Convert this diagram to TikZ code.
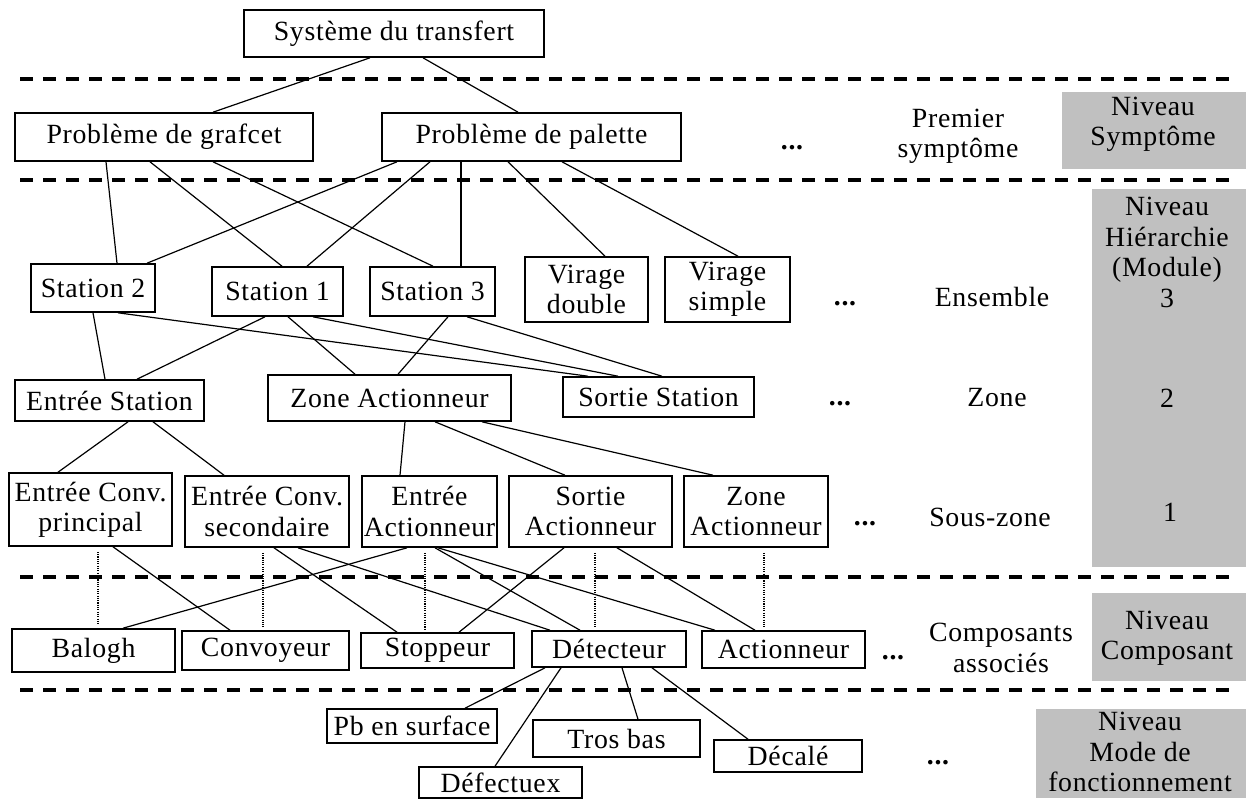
\documentclass[tikz,border=0pt]{standalone}
\usepackage{fontspec}
\setmainfont{Liberation Serif}[LetterSpace=2.5]
\usepackage{tikz}
\usetikzlibrary{positioning}
\usepackage{xcolor}
\definecolor{levelgray}{HTML}{C0C0C0}

\begin{document}
\begin{tikzpicture}[
  x=0.5pt, y=-0.5pt,
  font=\fontsize{13.9pt}{15.2pt}\selectfont,
  box/.style={draw, line width=0.8pt, inner sep=0pt, align=center},
  link/.style={line width=0.6pt},
  dotlink/.style={line width=1.1pt, dash pattern=on 0.55pt off 0.6pt,
    shorten <=2.5pt, shorten >=1.5pt},
  sepline/.style={line width=2pt, dash pattern=on 6.5pt off 5pt},
  lab/.style={align=center, inner sep=0pt}
]
  \useasboundingbox (0,0) rectangle (1246,798);
  % Level bands
  \fill[levelgray] (1062,92) rectangle (1246,169);
  \fill[levelgray] (1092,189) rectangle (1246,567);
  \fill[levelgray] (1092,593) rectangle (1246,681);
  \fill[levelgray] (1036,709) rectangle (1246,798);
  % Separators
  \foreach \y in {79,180,577,690}
    \draw[sepline] (20,\y) -- (1232,\y);
  % Top
  \node[box, minimum width=150pt, minimum height=23.5pt]
    (sys) at (394,33.5) {Système du transfert};
  % Symptoms
  \node[box, minimum width=149pt, minimum height=24pt]
    (pgraf) at (164,137) {Problème de grafcet};
  \node[box, minimum width=149.5pt, minimum height=24pt]
    (ppal) at (531.5,137) {Problème de palette};
  % Ensembles
  \node[box, minimum width=62pt, minimum height=24pt]
    (st2) at (93,288) {Station 2};
  \node[box, minimum width=65.5pt, minimum height=24.5pt]
    (st1) at (277.5,291.5) {Station 1};
  \node[box, minimum width=62.5pt, minimum height=24.5pt]
    (st3) at (432.5,291.5) {Station 3};
  \node[box, minimum width=61.5pt, minimum height=32.5pt]
    (vdbl) at (586.5,289.5) {Virage\\double};
  \node[box, minimum width=62.5pt, minimum height=32.5pt]
    (vsim) at (727.5,289.5) {Virage\\simple};
  % Zones
  \node[box, minimum width=94.5pt, minimum height=20.5pt]
    (ent) at (109.5,400.5) {Entrée Station};
  \node[box, minimum width=121.5pt, minimum height=23pt]
    (zact) at (389.5,398) {Zone Actionneur};
  \node[box, minimum width=95.5pt, minimum height=20pt]
    (sort) at (658.5,397) {Sortie Station};
  % Sub-zones
  \node[box, minimum width=81.5pt, minimum height=36.5pt]
    (ecp) at (90.5,509.5) {Entrée Conv.\\principal};
  \node[box, minimum width=82pt, minimum height=35.5pt]
    (ecs) at (267,511.5) {Entrée Conv.\\secondaire};
  \node[box, minimum width=67.5pt, minimum height=35.5pt]
    (eact) at (429.5,511.5) {Entrée\\Actionneur};
  \node[box, minimum width=81.5pt, minimum height=35.5pt]
    (sact) at (590.5,511.5) {Sortie\\Actionneur};
  \node[box, minimum width=72pt, minimum height=35.5pt]
    (zact2) at (756,511.5) {Zone\\Actionneur};
  % Components
  \node[box, minimum width=81.5pt, minimum height=21.5pt]
    (balogh) at (93.5,650.5) {Balogh};
  \node[box, minimum width=83.5pt, minimum height=19.5pt]
    (conv) at (265.5,650.5) {Convoyeur};
  \node[box, minimum width=76.5pt, minimum height=17.5pt]
    (stop) at (437.5,650.5) {Stoppeur};
  \node[box, minimum width=77pt, minimum height=18pt]
    (det) at (609,649) {Détecteur};
  \node[box, minimum width=81.5pt, minimum height=18.5pt]
    (act) at (783.5,649.5) {Actionneur};
  % Operating modes
  \node[box, minimum width=85pt, minimum height=17pt]
    (pbsurf) at (412,726) {Pb en surface};
  \node[box, minimum width=83.5pt, minimum height=18.5pt]
    (tros) at (616.5,738.5) {Tros bas};
  \node[box, minimum width=74pt, minimum height=16pt]
    (decal) at (788,756) {Décalé};
  \node[box, minimum width=81.5pt, minimum height=15.5pt]
    (defect) at (500.5,782.5) {Défectuex};
  % Links
  \foreach \a/\da/\b/\db in {
      sys/-24/pgraf/49, sys/29/ppal/-13.5,
      pgraf/-58/st2/24, pgraf/-14/st1/4.5, pgraf/49/st3/0.5,
      ppal/-134.5/st2/54, ppal/-101.5/st1/29.5, ppal/-70.5/st3/28.5,
      ppal/-23.5/vdbl/18.5, ppal/30.5/vsim/10.5,
      st2/0/ent/-4.5, st2/25/sort/-70.5,
      st1/-12.5/ent/27.5, st1/10.5/zact/-34.5, st1/35.5/sort/-40.5,
      st3/15.5/zact/8.5, st3/34.5/sort/3.5,
      ent/18.5/ecp/-32.5, ent/43.5/ecs/-43,
      zact/15.5/eact/-29.5, zact/45.5/sact/-25.5, zact/92.5/zact2/-43,
      ecp/22.5/conv/-35.5, ecs/7/stop/-40.5, ecs/31/det/-59,
      eact/-22.5/balogh/29.5, eact/5.5/det/-29, eact/8.5/act/-68.5,
      sact/-26.5/stop/21.5, sact/26.5/act/-28.5,
      det/-64/pbsurf/53, det/-48/defect/-5.5,
      det/13/tros/21.5, det/43/decal/-40}
    \draw[link] ([xshift=\da*0.5pt]\a.south) -- ([xshift=\db*0.5pt]\b.north);
  % Associated components
  \foreach \a/\da/\b/\db in {
      ecp/7.5/balogh/4.5, ecs/-4/conv/-2.5, eact/-4.5/stop/-12.5,
      sact/4.5/det/-14, zact2/8/act/-19.5}
    \draw[dotlink] ([xshift=\da*0.5pt]\a.south) -- ([xshift=\db*0.5pt]\b.north);
  % Dots
  \foreach \x/\y [count=\i] in {792/149, 845/305, 840/405, 865/525,
      893/659, 938/764}
    \node[anchor=base, font=\fontsize{13.9pt}{15.2pt}\selectfont\bfseries]
      (more\i) at (\x,\y) {...};
  % Level names
  \node[lab] (premier) at (958,136) {Premier\\symptôme};
  \node[lab] (ensemble) at (992,297) {Ensemble};
  \node[lab] (zone) at (997,398) {Zone};
  \node[lab] (souszone) at (990,517) {Sous-zone};
  \node[lab] (compo) at (1001,648) {Composants\\associés};
  \node[lab] (nsym) at (1153,124) {Niveau\\Symptôme};
  \node[lab] (nhier) at (1167,252.5) {Niveau\\Hiérarchie\\(Module)\\3};
  \node[lab] (ntwo) at (1167,398) {2};
  \node[lab] (none) at (1170,512) {1};
  \node[lab] (ncomp) at (1167,638) {Niveau\\Composant};
  \node[lab] (nmode) at (1140,752) {Niveau\\Mode de\\fonctionnement};
\end{tikzpicture}
\end{document}
